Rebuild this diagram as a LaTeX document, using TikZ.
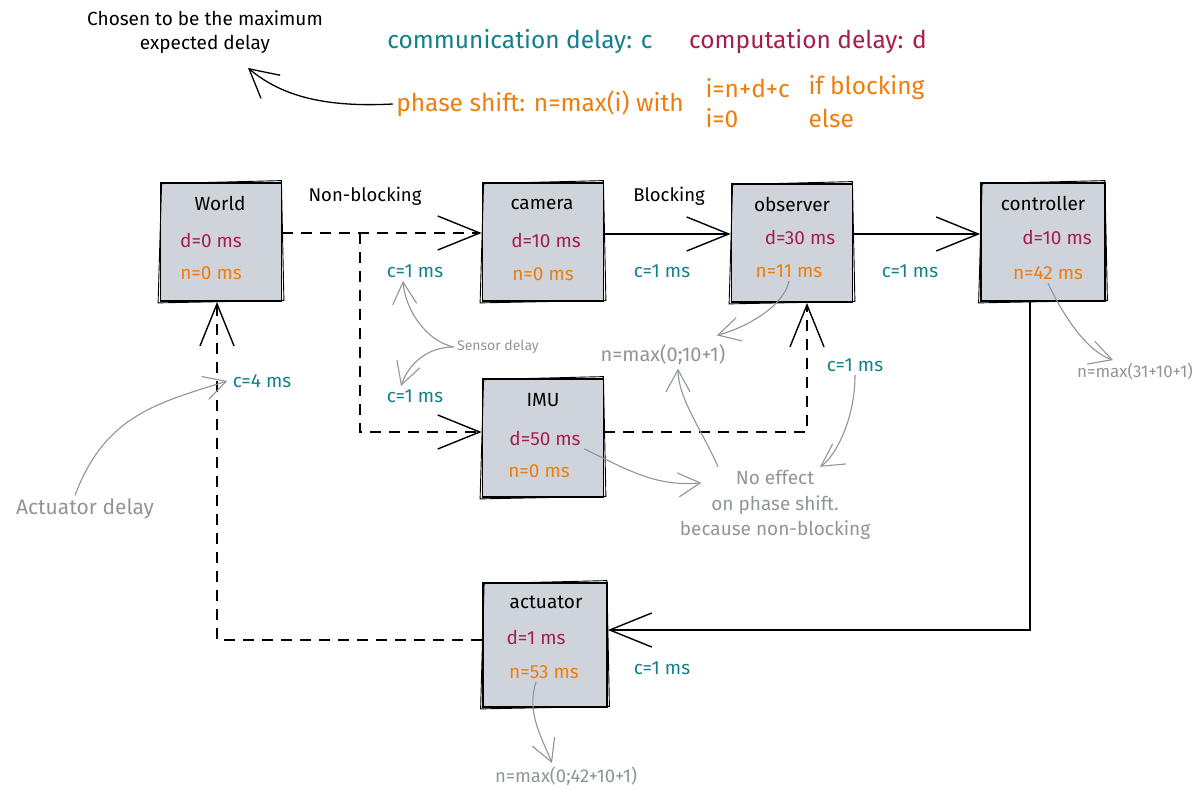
\documentclass[tikz,border=0pt]{standalone}
\usepackage{fontspec}
\setmainfont{Fira Sans}
\usetikzlibrary{arrows.meta}

\definecolor{commc}{HTML}{137F8E}
\definecolor{compc}{HTML}{A61E4D}
\definecolor{phasec}{HTML}{EE7D0E}
\definecolor{notec}{HTML}{8F959B}
\definecolor{boxfill}{HTML}{CED4DA}

\newcommand{\fs}[2]{\fontsize{#1}{#2}\selectfont}
% second, slightly offset outline for a hand-drawn look
\newcommand{\roughen}[1]{%
  \draw[line width=0.9pt] ([shift={(2,1.5)}]#1.north west) -- ([shift={(-1,-1.5)}]#1.north east)
    -- ([shift={(1.5,-1.5)}]#1.south east) -- ([shift={(-1.5,1)}]#1.south west) -- cycle;}

\tikzset{
  block/.style={draw=black, line width=1.8pt, fill=boxfill, inner sep=0pt,
    minimum width=121pt, minimum height=118pt},
  title/.style={text=black, font=\fs{19}{22}},
  dval/.style={text=compc, font=\fs{19}{22}},
  nval/.style={text=phasec, font=\fs{19}{22}},
  cval/.style={text=commc, font=\fs{19}{22}},
  lbl/.style={text=black, font=\fs{18.5}{22}},
  note/.style={text=notec, font=\fs{19}{25.5}, align=center},
  legend/.style={font=\fs{24.5}{28}},
  wire/.style={draw=black, line width=1.4pt},
  longdash/.style={dash pattern=on 11pt off 8pt},
  bigtip/.style={-{Straight Barb[length=42pt,width=34pt,line width=1.4pt]}},
  notearrow/.style={draw=notec, line width=1.1pt,
    -{Straight Barb[length=22pt,width=24pt,line width=1.1pt]}},
  blackarrow/.style={draw=black, line width=1.3pt,
    -{Straight Barb[length=28pt,width=30pt,line width=1.3pt]}},
}

\begin{document}
\begin{tikzpicture}[x=1pt,y=-1pt]
\useasboundingbox (0,0) rectangle (1199,789);

% ---------- blocks ----------
\node[block] (world) at (221,242) {};
\node[block] (camera) at (543,242) {};
\node[block] (observer) at (792,243) {};
\node[block, minimum width=124pt] (controller) at (1043,242) {};
\node[block] (imu) at (543,438) {};
\node[block, minimum width=124pt, minimum height=124pt] (actuator) at (545,645) {};
\roughen{world}\roughen{camera}\roughen{observer}
\roughen{controller}\roughen{imu}\roughen{actuator}

% ---------- block contents ----------
\node[title] (worldT) at (220,203) {World};
\node[dval]  (worldD) at (211,240) {d=0 ms};
\node[nval]  (worldN) at (211,273) {n=0 ms};

\node[title] (cameraT) at (542,204) {camera};
\node[dval]  (cameraD) at (546,240) {d=10 ms};
\node[nval]  (cameraN) at (543,274) {n=0 ms};

\node[title] (observerT) at (792,204) {observer};
\node[dval]  (observerD) at (800,237) {d=30 ms};
\node[nval]  (observerN) at (789,271) {n=11 ms};

\node[title] (controllerT) at (1043,203) {controller};
\node[dval]  (controllerD) at (1057,237) {d=10 ms};
\node[nval]  (controllerN) at (1048,273) {n=42 ms};

\node[title] (imuT) at (543,400) {IMU};
\node[dval]  (imuD) at (545,438) {d=50 ms};
\node[nval]  (imuN) at (539,471) {n=0 ms};

\node[title] (actuatorT) at (546,602) {actuator};
\node[dval]  (actuatorD) at (536,637) {d=1 ms};
\node[nval]  (actuatorN) at (544,672) {n=53 ms};

% ---------- connections ----------
\coordinate (split) at (360,233);
% world -> camera and world -> imu (non-blocking)
\draw[wire, longdash, bigtip] (world.east |- split) -- (camera.west |- split);
\draw[wire, longdash, bigtip] (split) |- (imu.west |- 0,432);
% camera -> observer -> controller (blocking)
\draw[wire, bigtip] (camera.east |- 0,234) -- (observer.west |- 0,234);
\draw[wire, bigtip] (observer.east |- 0,234) -- (controller.west |- 0,234);
% imu -> observer (non-blocking)
\draw[wire, longdash, bigtip] (imu.east |- 0,432) -| (807,303);
% controller -> actuator
\draw[wire, bigtip] (1030,302) |- (actuator.east |- 0,630);
% actuator -> world
\draw[wire, longdash, bigtip] (actuator.west |- 0,640) -| (217,302);

% ---------- connector labels ----------
\node[lbl] (nonblock) at (365,196) {Non-blocking};
\node[lbl] (block)    at (669,196) {Blocking};
\node[cval] (c1) at (415,271) {c=1 ms};
\node[cval] (c2) at (662,271) {c=1 ms};
\node[cval] (c3) at (910,271) {c=1 ms};
\node[cval] (c4) at (415,396) {c=1 ms};
\node[cval] (c5) at (855,365) {c=1 ms};
\node[cval] (c6) at (662,668) {c=1 ms};
\node[cval] (c7) at (262,381) {c=4 ms};

% ---------- legend ----------
\node[legend, text=commc] (legC) at (520,42) {communication delay: c};
\node[legend, text=compc] (legD) at (808,42) {computation delay: d};
\node[legend, text=phasec] (legN) at (540,104) {phase shift: n=max(i) with};
\node[legend, text=phasec, anchor=west] (legI1) at (702,88) {i=n+d+c};
\node[legend, text=phasec, anchor=west] (legB) at (805,88) {if blocking};
\node[legend, text=phasec, anchor=west] (legI2) at (702,118) {i=0};
\node[legend, text=phasec, anchor=west] (legE) at (805,118) {else};

\node[text=black, font=\fs{19}{24}, align=center] (chosen) at (205,32)
  {Chosen to be the maximum\\expected delay};
\draw[blackarrow] (legN.west) .. controls +(-75,4) and +(30,25) .. ([shift={(43,11)}]chosen.south);

% ---------- annotations ----------
\node[note, font=\fs{14}{16}] (sensor) at (498,347) {Sensor delay};
\draw[notearrow] (sensor.west) .. controls +(-28,-6) and +(2,28) .. ([xshift=-12pt]c1.south);
\draw[notearrow] (sensor.west) .. controls +(-30,0) and +(6,-18) .. ([xshift=-14pt]c4.north);

\node[note, font=\fs{20}{24}] (nmaxObs) at (663,355) {n=max(0;10+1)};
\draw[notearrow] (observerN.south) .. controls +(-5,25) and +(30,-8) .. ([shift={(-12,-6)}]nmaxObs.north east);

\node[note] (noeffect) at (775,505) {No effect\\on phase shift.\\because non-blocking};
\draw[notearrow] (imuD.south east) .. controls +(45,22) and +(-45,4) .. ([shift={(25,16)}]noeffect.north west);
\draw[notearrow] ([xshift=-57pt]noeffect.north) .. controls +(-15,-35) and +(0,30) .. ([xshift=15pt]nmaxObs.south);
\draw[notearrow] (c5.south) .. controls +(0,45) and +(15,-10) .. ([xshift=45pt]noeffect.north);

\node[note, font=\fs{17}{20}] (nmaxCtrl) at (1135,372) {n=max(31+10+1)};
\draw[notearrow] (controllerN.south) .. controls +(10,22) and +(-30,-10) .. ([xshift=-22pt]nmaxCtrl.north);

\node[note, font=\fs{21}{24}] (actdelay) at (85,509) {Actuator delay};
\draw[notearrow] ([xshift=-10pt]actdelay.north) .. controls +(30,-80) and +(-70,22) .. ([xshift=-2pt]c7.west);

\node[note, font=\fs{18.5}{22}] (nmaxAct) at (566,776) {n=max(0;42+10+1)};
\draw[notearrow] ([xshift=-8pt]actuatorN.south) .. controls +(-10,30) and +(-10,-25) .. ([xshift=-14pt]nmaxAct.north);

\end{tikzpicture}
\end{document}
